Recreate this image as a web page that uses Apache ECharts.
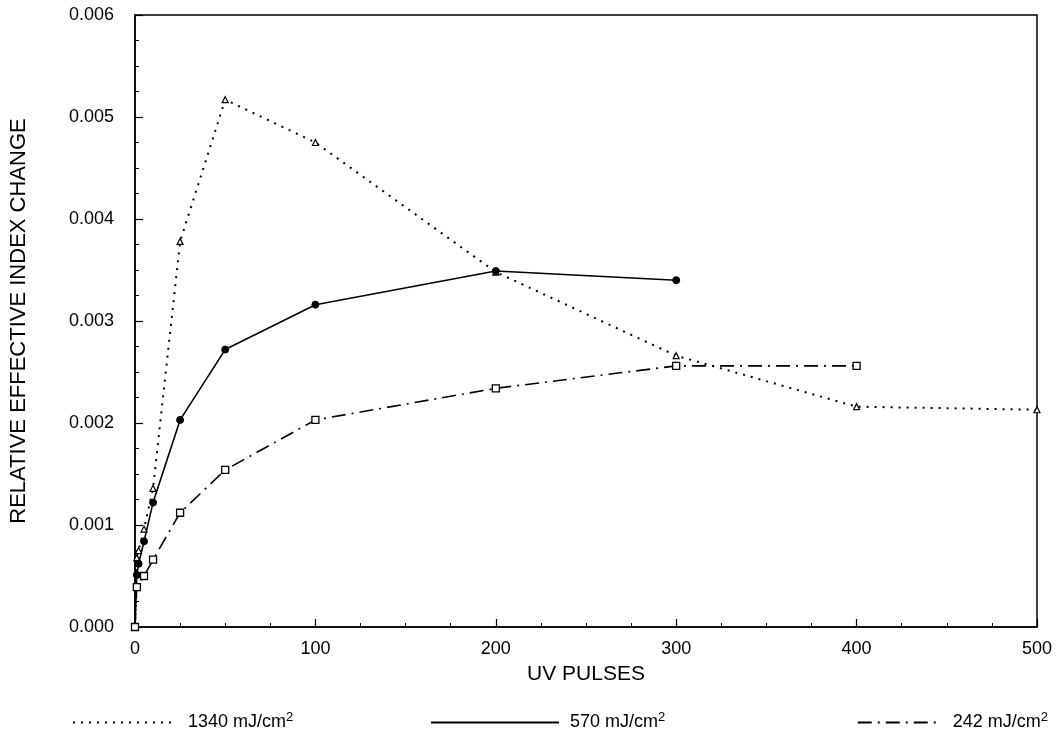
<!DOCTYPE html>
<html>
<head>
<meta charset="utf-8">
<script src="https://cdn.jsdelivr.net/npm/echarts@6/dist/echarts.min.js"></script>
<style>
html,body{margin:0;padding:0;background:#fff;}
#chart{width:1057px;height:738px;}
</style>
</head>
<body>
<div id="chart"></div>
<script>
const xTicks = [0, 100, 200, 300, 400, 500];
const yTicks = [0, 0.001, 0.002, 0.003, 0.004, 0.005, 0.006];
const seriesNames = ['1340 mJ/cm2', '570 mJ/cm2', '242 mJ/cm2'];

const x1340 = [0, 1, 2, 5, 10, 25, 50, 100, 200, 300, 400, 500];
const y1340 = [0, 0.00068, 0.00075, 0.00096, 0.00136, 0.00378, 0.00517, 0.00475, 0.00348, 0.00266, 0.00216, 0.00213];

const x570 = [0, 1, 2, 5, 10, 25, 50, 100, 200, 300];
const y570 = [0, 0.00051, 0.00062, 0.00084, 0.00122, 0.00203, 0.00272, 0.00316, 0.00349, 0.0034];

const x242 = [0, 1, 5, 10, 25, 50, 100, 200, 300, 400];
const y242 = [0, 0.00039, 0.0005, 0.00066, 0.00112, 0.00154, 0.00203, 0.00234, 0.00256, 0.00256];

const pair = (xs, ys) => xs.map((x, i) => [x, ys[i]]);
const FONT = '"Liberation Sans", Arial, sans-serif';

const chart = echarts.init(document.getElementById('chart'), null, {renderer: 'canvas'});

const legendBase = {
  orient: 'horizontal',
  top: 706,
  itemHeight: 10,
  itemGap: 10,
  itemStyle: {color: 'transparent', borderWidth: 0},
  textStyle: {
    fontFamily: FONT, fontSize: 18, color: '#000',
    rich: {
      n: {fontFamily: FONT, fontSize: 18, color: '#000', padding: [0, 0, 0, 6]},
      s: {fontFamily: FONT, fontSize: 13, color: '#000', verticalAlign: 'top', padding: [0, 0, 10, 0]}
    }
  },
  formatter: name => '{n|' + name.replace('cm2', 'cm') + '}{s|2}'
};

chart.setOption({
  backgroundColor: '#fff',
  animation: false,
  grid: {left: 134, right: 20, top: 15, bottom: 111, show: true, borderColor: '#000', borderWidth: 1.5, containLabel: false},
  legend: [
    Object.assign({}, legendBase, {left: 67, itemWidth: 104, data: [seriesNames[0]]}),
    Object.assign({}, legendBase, {left: 425, itemWidth: 128, data: [seriesNames[1]]}),
    Object.assign({}, legendBase, {right: 4, itemWidth: 84, data: [seriesNames[2]]})
  ],
  xAxis: {
    type: 'value', min: xTicks[0], max: xTicks[xTicks.length - 1], interval: 100,
    name: 'UV PULSES', nameLocation: 'middle', nameGap: 37,
    nameTextStyle: {fontFamily: FONT, fontSize: 21, color: '#000'},
    axisLine: {show: true, lineStyle: {color: '#000', width: 1.5}},
    axisTick: {show: true, inside: true, length: 8, lineStyle: {color: '#000', width: 1.2}},
    minorTick: {show: true, splitNumber: 4, length: 4, lineStyle: {color: '#000', width: 1}},
    splitLine: {show: false},
    axisLabel: {fontFamily: FONT, fontSize: 18, color: '#000', margin: 13}
  },
  yAxis: {
    type: 'value', min: yTicks[0], max: yTicks[yTicks.length - 1], interval: 0.001,
    name: 'RELATIVE EFFECTIVE INDEX CHANGE', nameLocation: 'middle', nameGap: 105,
    nameTextStyle: {fontFamily: FONT, fontSize: 22, color: '#000'},
    axisLine: {show: true, lineStyle: {color: '#000', width: 1.5}},
    axisTick: {show: true, inside: true, length: 8, lineStyle: {color: '#000', width: 1.2}},
    minorTick: {show: true, splitNumber: 4, length: 4, lineStyle: {color: '#000', width: 1}},
    splitLine: {show: false},
    axisLabel: {fontFamily: FONT, fontSize: 18, color: '#000', margin: 21, formatter: v => v.toFixed(3)}
  },
  series: [
    {
      name: seriesNames[0], type: 'line', data: pair(x1340, y1340),
      symbol: 'triangle', symbolSize: 6, showAllSymbol: true,
      itemStyle: {color: '#fff', borderColor: '#000', borderWidth: 1.2},
      lineStyle: {color: '#000', width: 2, type: [2, 6]}
    },
    {
      name: seriesNames[1], type: 'line', data: pair(x570, y570),
      symbol: 'circle', symbolSize: 7, showAllSymbol: true,
      itemStyle: {color: '#000', borderColor: '#000', borderWidth: 1},
      lineStyle: {color: '#000', width: 1.6, type: 'solid'}
    },
    {
      name: seriesNames[2], type: 'line', data: pair(x242, y242),
      symbol: 'rect', symbolSize: 7, showAllSymbol: true,
      itemStyle: {color: '#fff', borderColor: '#000', borderWidth: 1.3},
      lineStyle: {color: '#000', width: 1.6, type: [14, 6, 2, 6]}
    }
  ]
});
</script>
</body>
</html>
